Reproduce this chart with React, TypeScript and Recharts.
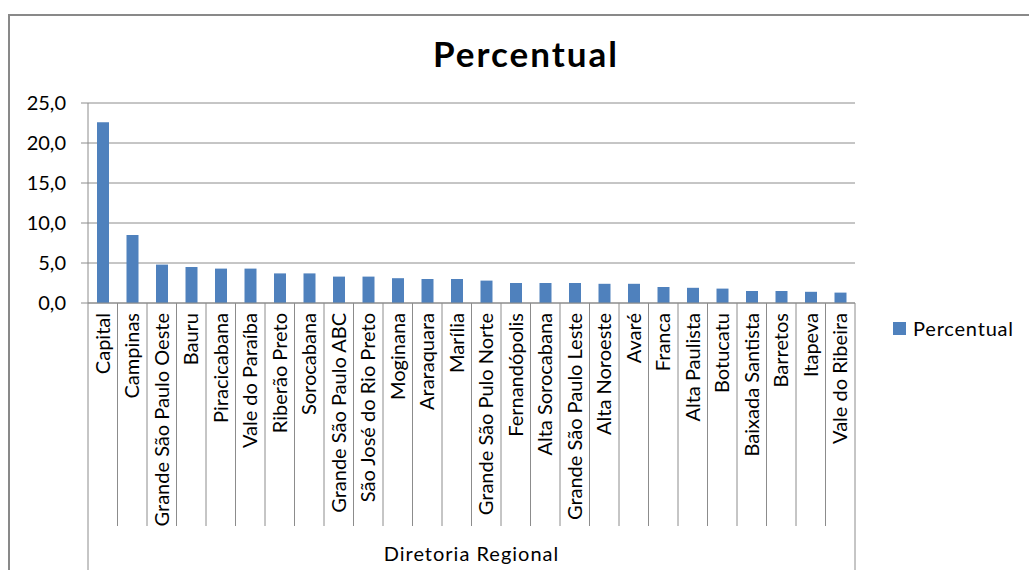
import { BarChart, Bar, XAxis, YAxis, CartesianGrid } from "recharts"

const categories = [
  "Capital", "Campinas", "Grande São Paulo Oeste", "Bauru", "Piracicabana",
  "Vale do Paraíba", "Riberão Preto", "Sorocabana", "Grande São Paulo ABC",
  "São José do Rio Preto", "Moginana", "Araraquara", "Marília",
  "Grande São Pulo Norte", "Fernandópolis", "Alta Sorocabana",
  "Grande São Paulo Leste", "Alta Noroeste", "Avaré", "Franca",
  "Alta Paulista", "Botucatu", "Baixada Santista", "Barretos", "Itapeva",
  "Vale do Ribeira",
]

const percentual = [
  22.6, 8.5, 4.8, 4.5, 4.3, 4.3, 3.7, 3.7, 3.3, 3.3, 3.1, 3.0, 3.0,
  2.8, 2.5, 2.5, 2.5, 2.4, 2.4, 2.0, 1.9, 1.8, 1.5, 1.5, 1.4, 1.3,
]

const yTicks = [0, 5, 10, 15, 20, 25]

const data = categories.map((name, i) => ({ name, Percentual: percentual[i] }))

const FONT = "Lato, 'Open Sans', sans-serif"
const GRID = "#8c8c8c"
const BLUE = "#4F81BD"

const PLOT_LEFT = 88
const PLOT_RIGHT = 855
const BAND = (PLOT_RIGHT - PLOT_LEFT) / categories.length

function CategoryTick(props: any) {
  const { x, y, payload } = props
  const idx = payload.index ?? props.index
  const last = idx === categories.length - 1
  return (
    <g>
      <line x1={x - BAND / 2} x2={x - BAND / 2} y1={y} y2={idx === 0 ? 570 : 526} stroke={GRID} />
      {last && <line x1={x + BAND / 2} x2={x + BAND / 2} y1={y} y2={570} stroke={GRID} />}
      <text
        transform={`translate(${x},${y + 10}) rotate(-90)`}
        textAnchor="end"
        dy="0.36em"
        fontSize={20}
        fontFamily={FONT}
        fill="#000"
      >
        {payload.value}
      </text>
    </g>
  )
}

export default function App() {
  return (
    <div style={{ position: "relative", width: 1029, height: 570, overflow: "hidden", background: "#fff" }}>
      <style>{`body{margin:0}`}</style>
      <div
        style={{
          position: "absolute", left: 8, top: 14, width: 1200, height: 800,
          borderTop: "2px solid #898989", borderLeft: "2px solid #898989",
        }}
      />
      <div
        style={{
          position: "absolute", left: 526, top: 32, transform: "translateX(-50%)",
          fontFamily: FONT, fontWeight: 700, fontSize: 35, letterSpacing: 2,
          color: "#000", whiteSpace: "nowrap",
        }}
      >
        Percentual
      </div>
      <div
        style={{
          position: "absolute", left: 893, top: 316, display: "flex", alignItems: "center",
          fontFamily: FONT, fontSize: 20, letterSpacing: 0.8, color: "#000",
        }}
      >
        <span style={{ width: 13, height: 13, background: BLUE, display: "inline-block", marginRight: 7 }} />
        Percentual
      </div>
      <div style={{ position: "absolute", left: 0, top: 0 }}>
        <BarChart
          width={1029}
          height={570}
          data={data}
          margin={{ top: 103, right: 1029 - PLOT_RIGHT, bottom: 0, left: PLOT_LEFT - 60 }}
        >
          <CartesianGrid vertical={false} stroke={GRID} />
          <XAxis
            dataKey="name"
            interval={0}
            height={267}
            tickSize={0}
            tickMargin={0}
            axisLine={{ stroke: GRID }}
            tick={<CategoryTick />}
            label={{
              value: "Diretoria Regional", position: "insideBottom", offset: 9,
              fontSize: 20, fontFamily: FONT, fill: "#000", letterSpacing: 1,
            }}
          />
          <YAxis
            width={60}
            domain={[0, 25]}
            ticks={yTicks}
            tickSize={7}
            tickMargin={15}
            axisLine={{ stroke: GRID }}
            tickLine={{ stroke: GRID }}
            tick={{ fontSize: 20, fontFamily: FONT, fill: "#000" }}
            tickFormatter={(v: number) => v.toFixed(1).replace(".", ",")}
          />
          <Bar dataKey="Percentual" fill={BLUE} barSize={12} isAnimationActive={false} />
        </BarChart>
      </div>
    </div>
  )
}
